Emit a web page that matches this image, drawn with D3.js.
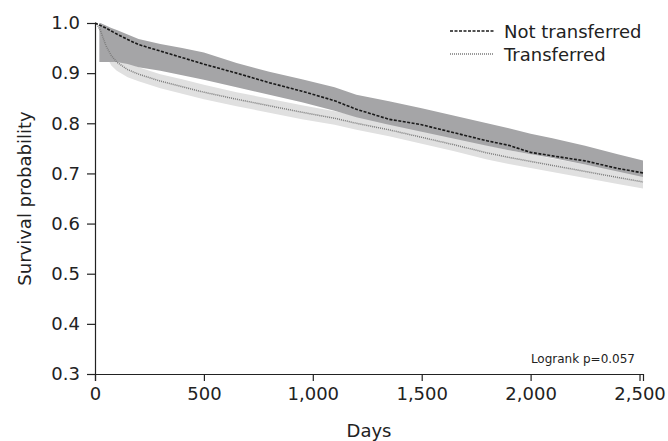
<!DOCTYPE html>
<html>
<head>
<meta charset="utf-8">
<script src="https://cdn.jsdelivr.net/npm/d3@7"></script>
<style>
  body { margin: 0; background: #fff; }
  text { font-family: "DejaVu Sans", "Liberation Sans", Arial, sans-serif; fill: #222; }
</style>
</head>
<body>
<div id="chart"></div>
<script>
// survival estimates
const days = [0, 10, 25, 50, 75, 100, 150, 200, 300, 400, 500, 650, 800, 950, 1100, 1200, 1350, 1500, 1650, 1800, 1900, 2000, 2100, 2250, 2400, 2516];

const notTransferred = [1.0, 0.998, 0.995, 0.99, 0.984, 0.978, 0.967, 0.957, 0.944, 0.931, 0.918, 0.9, 0.881, 0.864, 0.845, 0.828, 0.808, 0.797, 0.781, 0.765, 0.756, 0.742, 0.735, 0.725, 0.71, 0.701];
const notTransferredUpper = [1.0, 1.0, 1.0, 0.995, 0.99, 0.986, 0.977, 0.968, 0.958, 0.95, 0.941, 0.92, 0.903, 0.888, 0.872, 0.857, 0.844, 0.83, 0.815, 0.8, 0.79, 0.779, 0.77, 0.755, 0.738, 0.726];
const notTransferredLower = [null, null, 0.922, 0.922, 0.922, 0.922, 0.918, 0.912, 0.905, 0.896, 0.887, 0.872, 0.857, 0.842, 0.825, 0.812, 0.797, 0.783, 0.769, 0.755, 0.746, 0.738, 0.731, 0.718, 0.704, 0.693];

const transferred = [1.0, 0.997, 0.985, 0.955, 0.935, 0.922, 0.907, 0.898, 0.884, 0.873, 0.862, 0.848, 0.835, 0.822, 0.81, 0.8, 0.787, 0.772, 0.757, 0.741, 0.732, 0.724, 0.716, 0.704, 0.692, 0.683];
const transferredUpper = [null, null, 0.998, 0.975, 0.955, 0.94, 0.922, 0.912, 0.898, 0.888, 0.877, 0.862, 0.849, 0.836, 0.824, 0.815, 0.802, 0.787, 0.772, 0.756, 0.746, 0.738, 0.73, 0.718, 0.706, 0.697];
const transferredLower = [null, null, 0.97, 0.935, 0.915, 0.905, 0.892, 0.884, 0.87, 0.859, 0.848, 0.834, 0.821, 0.808, 0.797, 0.787, 0.774, 0.759, 0.744, 0.728, 0.719, 0.711, 0.703, 0.691, 0.679, 0.67];

const xTicks = [0, 500, 1000, 1500, 2000, 2500];
const yTicks = [0.3, 0.4, 0.5, 0.6, 0.7, 0.8, 0.9, 1.0];
const legendLabels = ['Not transferred', 'Transferred'];

const width = 668;
const height = 441;
const margin = { top: 23, right: 25, bottom: 67, left: 95 };

const svg = d3.select('#chart')
  .append('svg')
  .attr('width', width)
  .attr('height', height);

const x = d3.scaleLinear()
  .domain([0, 2516])
  .range([margin.left, width - margin.right]);

const y = d3.scaleLinear()
  .domain([0.3, 1.0])
  .range([height - margin.bottom, margin.top]);

function bandRows(upper, lower) {
  return days.map((d, i) => ({ d, hi: upper[i], lo: lower[i] }))
    .filter(r => r.hi != null && r.lo != null);
}

const area = d3.area()
  .x(r => x(r.d))
  .y0(r => y(r.lo))
  .y1(r => y(r.hi));

// the band starts at the first event, so it has a flat left edge
const ntRows = bandRows(notTransferredUpper, notTransferredLower);
ntRows.unshift({ d: 20, hi: 1.0, lo: 0.922 });

svg.append('path')
  .datum(bandRows(transferredUpper, transferredLower))
  .attr('fill', '#e0e0e0')
  .attr('d', area);

svg.append('path')
  .datum(ntRows)
  .attr('fill', '#a5a5a7')
  .attr('d', area);

const line = d3.line()
  .x((v, i) => x(days[i]))
  .y(v => y(v));

svg.append('path')
  .datum(transferred)
  .attr('fill', 'none')
  .attr('stroke', '#7a7a7a')
  .attr('stroke-width', 1.5)
  .attr('stroke-dasharray', '1,1')
  .attr('d', line);

svg.append('path')
  .datum(notTransferred)
  .attr('fill', 'none')
  .attr('stroke', '#1a1a1a')
  .attr('stroke-width', 1.6)
  .attr('stroke-dasharray', '3,1.5')
  .attr('d', line);

// axes
svg.append('g')
  .attr('transform', `translate(0,${height - margin.bottom})`)
  .call(d3.axisBottom(x).tickValues(xTicks).tickSize(7).tickPadding(6).tickFormat(d3.format(',')))
  .call(g => g.selectAll('.domain, line').attr('stroke', '#222').attr('stroke-width', 1.2))
  .call(g => g.selectAll('text').attr('font-size', 18).attr('fill', '#222'))
  .attr('font-family', null);

svg.append('g')
  .attr('transform', `translate(${margin.left},0)`)
  .call(d3.axisLeft(y).tickValues(yTicks).tickSize(8).tickSizeOuter(0).tickPadding(7).tickFormat(d3.format('.1f')))
  .call(g => g.selectAll('.domain, line').attr('stroke', '#222').attr('stroke-width', 1.2))
  .call(g => g.selectAll('text').attr('font-size', 18).attr('fill', '#222'))
  .attr('font-family', null);

svg.append('text')
  .attr('x', (x(0) + x(2516)) / 2)
  .attr('y', 437)
  .attr('text-anchor', 'middle')
  .attr('font-size', 18)
  .text('Days');

svg.append('text')
  .attr('transform', `translate(31,${(y(0.3) + y(1.0)) / 2}) rotate(-90)`)
  .attr('text-anchor', 'middle')
  .attr('font-size', 18)
  .text('Survival probability');

svg.append('text')
  .attr('x', 635)
  .attr('y', 363)
  .attr('text-anchor', 'end')
  .attr('font-size', 12)
  .text('Logrank p=0.057');

// legend
const legendStyles = [
  { stroke: '#1a1a1a', dash: '3,1.5', width: 1.3 },
  { stroke: '#7a7a7a', dash: '1,1', width: 1.3 }
];
const legend = svg.append('g');
legendLabels.forEach((label, i) => {
  const yy = 31 + i * 23;
  legend.append('line')
    .attr('x1', 450).attr('x2', 494)
    .attr('y1', yy).attr('y2', yy)
    .attr('stroke', legendStyles[i].stroke)
    .attr('stroke-width', legendStyles[i].width)
    .attr('stroke-dasharray', legendStyles[i].dash);
  legend.append('text')
    .attr('x', 504)
    .attr('y', yy + 6.5)
    .attr('font-size', 18)
    .text(label);
});
</script>
</body>
</html>
